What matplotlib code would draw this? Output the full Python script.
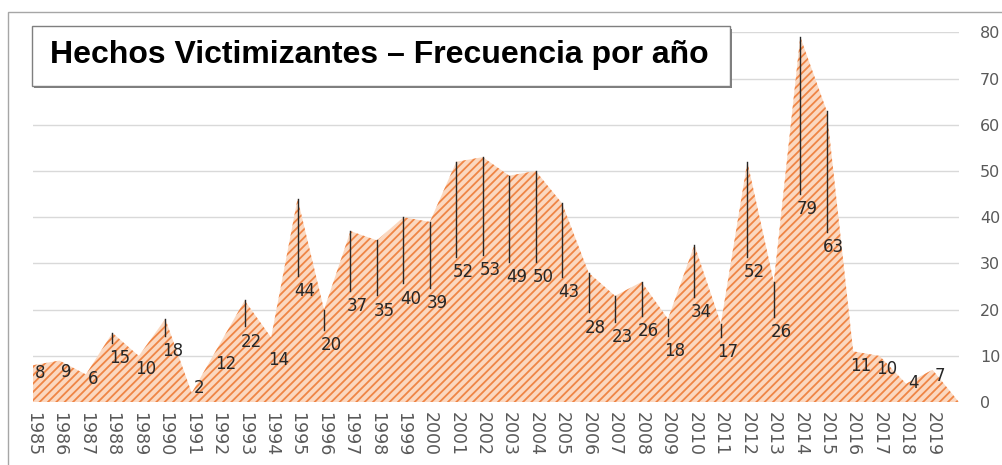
import matplotlib.pyplot as plt
from matplotlib.patches import Rectangle

years = ["1985", "1986", "1987", "1988", "1989", "1990", "1991", "1992", "1993",
         "1994", "1995", "1996", "1997", "1998", "1999", "2000", "2001", "2002",
         "2003", "2004", "2005", "2006", "2007", "2008", "2009", "2010", "2011",
         "2012", "2013", "2014", "2015", "2016", "2017", "2018", "2019", ""]
frecuencia = [8, 9, 6, 15, 10, 18, 2, 12, 22, 14, 44, 20, 37, 35, 40, 39, 52, 53,
              49, 50, 43, 28, 23, 26, 18, 34, 17, 52, 26, 79, 63, 11, 10, 4, 7, 0]

# where each data label sits (manually moved in the original)
label_y = [6.4, 6.6, 5.1, 9.6, 7.2, 11.1, 3.1, 8.3, 13.1, 9.2, 24.1, 12.3, 20.7,
           19.8, 22.4, 21.5, 28.2, 28.6, 27.1, 27.1, 23.8, 16.1, 14.0, 15.3, 11.1,
           19.4, 10.9, 28.2, 15.2, 41.8, 33.6, 7.9, 7.2, 4.2, 5.7]

plt.rcParams['hatch.color'] = '#ef8545'
plt.rcParams['hatch.linewidth'] = 1.3

fig = plt.figure(figsize=(10.02, 4.65), dpi=100)
ax = fig.add_axes([33 / 1002, 1 - 402.2 / 465, (959 - 33) / 1002, (402.2 - 32.3) / 465])

x = list(range(len(years)))
ax.fill_between(x, frecuencia, 0, facecolor='#fbd8c0', edgecolor='none',
                hatch='////', linewidth=0, zorder=2)

for i, ly in enumerate(label_y):
    v = frecuencia[i]
    top = ly + 3.3
    if v - top > 1.8:
        ax.plot([i, i], [v, top], color='#262626', lw=1, zorder=3)
    ax.text(i + 0.27, ly, str(v), ha='center', va='center', fontsize=12,
            color='#262626', zorder=4)

ax.set_xlim(0, len(years) - 1)
ax.set_ylim(0, 80)
ax.set_yticks(range(0, 81, 10))
ax.yaxis.tick_right()
ax.grid(axis='y', color='#d9d9d9', lw=1, zorder=0)
ax.set_xticks(x)
ax.set_xticklabels(years, rotation=-90, fontsize=12.5, color='#595959')
ax.tick_params(axis='x', length=0, pad=7)
ax.tick_params(axis='y', length=0, pad=15, labelsize=11.5, labelcolor='#595959')
for s in ax.spines.values():
    s.set_visible(False)

# outer chart border
fig.patches.append(Rectangle((8 / 1002, -0.1), 1.1, 1 - 12 / 465 + 0.1,
                             transform=fig.transFigure, fill=False,
                             edgecolor='#a6a6a6', lw=1))
# title box with shadow
fig.patches.append(Rectangle((34 / 1002, 1 - 88 / 465), 698 / 1002, 59 / 465,
                             transform=fig.transFigure, facecolor='#7f7f7f',
                             edgecolor='none', zorder=5))
fig.patches.append(Rectangle((32 / 1002, 1 - 86 / 465), 698 / 1002, 60 / 465,
                             transform=fig.transFigure, facecolor='white',
                             edgecolor='#7f7f7f', lw=1, zorder=6))
fig.text(50 / 1002, 1 - 55 / 465, "Hechos Victimizantes – Frecuencia por año",
         fontsize=23, fontweight='bold', family='Liberation Sans',
         va='center', ha='left', color='black', zorder=7)

fig.savefig('out.png', dpi=100)
